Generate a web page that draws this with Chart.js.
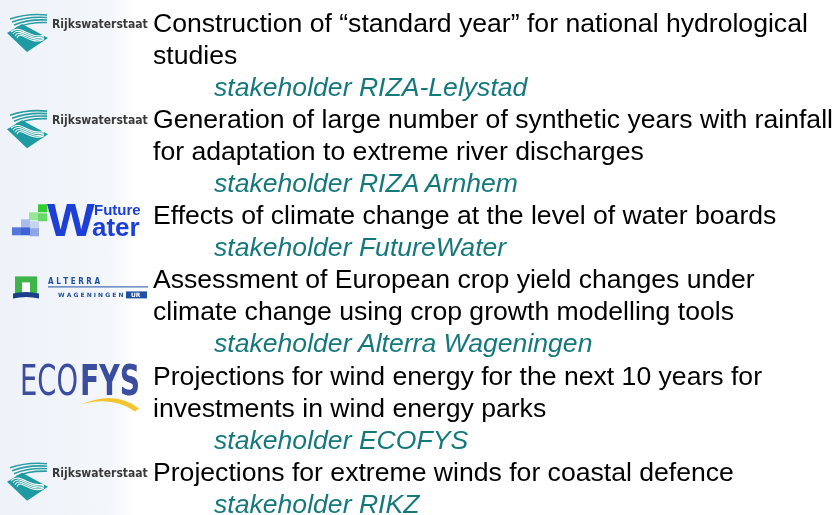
<!DOCTYPE html>
<html>
<head>
<meta charset="utf-8">
<script src="https://cdn.jsdelivr.net/npm/chart.js@4"></script>
<style>
  html, body { margin: 0; padding: 0; background: #fff; }
  #wrap { position: relative; width: 836px; height: 515px; overflow: hidden;
    background: linear-gradient(to right, #eef3f9 0px, #f3f6fb 110px, #fff 135px); }
  #logoCanvas { position: absolute; left: 0; top: 0; }
  #lines { position: absolute; left: 0; top: 7px; width: 836px;
    font-family: "Liberation Sans", Arial, sans-serif; font-size: 26.6px; line-height: 32.05px; }
  .main { padding-left: 153px; color: #000; white-space: nowrap; }
  .who { padding-left: 214px; color: #15797c; font-style: italic; white-space: nowrap; }
</style>
</head>
<body>
<div id="wrap">
  <canvas id="logoCanvas" width="836" height="515"></canvas>
  <div id="lines"></div>
</div>
<script>
// ------------------- Slide content -------------------
const projectLines = [
  ["Construction of \u201cstandard year\u201d for national hydrological", "studies"],
  ["Generation of large number of synthetic years with rainfall", "for adaptation to extreme river discharges"],
  ["Effects of climate change at the level of water boards"],
  ["Assessment of European crop yield changes under", "climate change using crop growth modelling tools"],
  ["Projections for wind energy for the next 10 years for", "investments in wind energy parks"],
  ["Projections for extreme winds for coastal defence"]
];
const stakeholders = [
  "stakeholder RIZA-Lelystad",
  "stakeholder RIZA Arnhem",
  "stakeholder FutureWater",
  "stakeholder Alterra Wageningen",
  "stakeholder ECOFYS",
  "stakeholder RIKZ"
];
const logoNames = ["rws", "rws", "futurewater", "alterra", "ecofys", "rws"];

const FIRST_BASELINE = 32;
const LINE_STEP = 32.05;

// ------------------- Text -------------------
const box = document.getElementById("lines");
const logoBaselines = [];
let lineNo = 0;
projectLines.forEach((lines, i) => {
  logoBaselines.push(FIRST_BASELINE + lineNo * LINE_STEP);
  lines.forEach((t) => {
    const d = document.createElement("div");
    d.className = "main";
    d.textContent = t;
    box.appendChild(d);
    lineNo++;
  });
  const s = document.createElement("div");
  s.className = "who";
  s.textContent = stakeholders[i];
  box.appendChild(s);
  lineNo++;
});

// ------------------- Logo painters -------------------
function drawRws(ctx, B) {
  ctx.save();
  // thin stripes on top
  ctx.strokeStyle = "#2a9ca3";
  ctx.lineWidth = 1.6;
  for (let k = 0; k < 4; k++) {
    ctx.beginPath();
    ctx.moveTo(10 + k * 2, B - 13 + k * 3);
    ctx.quadraticCurveTo(28, B - 19 + k * 3, 47, B - 17 + k * 2.5);
    ctx.stroke();
  }
  // diamond
  ctx.fillStyle = "#1e9aa2";
  ctx.beginPath();
  ctx.moveTo(7, B + 1);
  ctx.lineTo(22, B - 8);
  ctx.lineTo(48, B + 6);
  ctx.lineTo(27, B + 20);
  ctx.closePath();
  ctx.fill();
  // white waves
  ctx.strokeStyle = "#ffffff";
  ctx.lineWidth = 1.1;
  for (let k = 0; k < 4; k++) {
    ctx.beginPath();
    ctx.moveTo(11 + k * 2, B + k * 2);
    ctx.bezierCurveTo(20, B - 9 + k * 2, 30, B + 8 + k * 2, 44, B + 3 + k * 1.5);
    ctx.stroke();
  }
  ctx.fillStyle = "#3a3a3a";
  ctx.font = 'bold 12px "DejaVu Sans Condensed", "DejaVu Sans", sans-serif';
  ctx.textBaseline = "alphabetic";
  ctx.fillText("Rijkswaterstaat", 52, B - 4, 96);
  ctx.restore();
}

function drawFutureWater(ctx, B) {
  ctx.save();
  const sq = [
    [38, -20, "#33cc33"], [29, -12, "#99e699"], [38, -11, "#66d966"], [47, -20, "#b3ecb3"],
    [21, -5, "#aabde8"], [30, -3, "#c7d4f0"], [12, 3, "#5577d9"], [21, 3, "#3d63d6"], [30, 4, "#8ea6e6"]
  ];
  sq.forEach(([x, y, c]) => { ctx.fillStyle = c; ctx.fillRect(x, B + y, 9, 8); });
  ctx.fillStyle = "#1d3fd6";
  ctx.font = 'bold 46px "Liberation Sans", Arial, sans-serif';
  ctx.save();
  ctx.translate(47, B + 12);
  ctx.scale(1.1, 1);
  ctx.fillText("W", 0, 0);
  ctx.restore();
  ctx.font = 'bold 15px "Liberation Sans Narrow", "Liberation Sans", Arial, sans-serif';
  ctx.fillText("Future", 94, B - 9, 51);
  ctx.font = 'bold 26px "Liberation Sans", Arial, sans-serif';
  ctx.fillText("ater", 92, B + 12, 53);
  ctx.restore();
}

function drawAlterra(ctx, B) {
  ctx.save();
  ctx.fillStyle = "#3db548";
  ctx.fillRect(15, B - 12, 22, 18);
  ctx.fillStyle = "#ffffff";
  ctx.fillRect(22, B - 6, 8, 12);
  ctx.fillStyle = "#1c3f8c";
  ctx.beginPath();
  ctx.moveTo(13, B + 5);
  ctx.quadraticCurveTo(26, B + 2, 39, B + 5);
  ctx.lineTo(39, B + 10);
  ctx.quadraticCurveTo(26, B + 7, 13, B + 10);
  ctx.closePath();
  ctx.fill();
  ctx.fillStyle = "#2150a0";
  ctx.font = 'bold 8px "DejaVu Sans", sans-serif';
  ctx.fillText("A L T E R R A", 48, B - 4, 52);
  ctx.fillRect(48, B - 2, 100, 1);
  ctx.font = 'bold 6px "DejaVu Sans", sans-serif';
  ctx.fillText("W A G E N I N G E N", 58, B + 9, 66);
  ctx.fillRect(126, B + 3, 21, 7);
  ctx.fillStyle = "#ffffff";
  ctx.fillText("UR", 131, B + 9, 12);
  ctx.restore();
}

function drawEcofys(ctx, B) {
  ctx.save();
  ctx.fillStyle = "#3a4d9e";
  ctx.font = '42px "DejaVu Sans Condensed", "DejaVu Sans", sans-serif';
  ctx.fillText("ECO", 20, B + 10, 58);
  ctx.font = 'bold 42px "DejaVu Sans Condensed", "DejaVu Sans", sans-serif';
  ctx.fillText("FYS", 80, B + 10, 60);
  ctx.fillStyle = "#f2c530";
  ctx.beginPath();
  ctx.moveTo(81, B + 20);
  ctx.quadraticCurveTo(115, B + 5, 139, B + 24);
  ctx.lineTo(135, B + 27);
  ctx.quadraticCurveTo(112, B + 11, 81, B + 20);
  ctx.closePath();
  ctx.fill();
  ctx.restore();
}

const painters = { rws: drawRws, futurewater: drawFutureWater, alterra: drawAlterra, ecofys: drawEcofys };

// Chart.js hosts the canvas; a plugin paints the logos next to each project
const logoPlugin = {
  id: "projectLogos",
  afterDraw(chart) {
    const ctx = chart.ctx;
    logoNames.forEach((name, i) => painters[name](ctx, logoBaselines[i]));
  }
};

new Chart(document.getElementById("logoCanvas"), {
  type: "scatter",
  data: { datasets: [{ data: [] }] },
  options: {
    responsive: false,
    animation: false,
    events: [],
    layout: { padding: 0 },
    scales: { x: { display: false }, y: { display: false } },
    plugins: { legend: { display: false }, tooltip: { enabled: false } }
  },
  plugins: [logoPlugin]
});
</script>
</body>
</html>
